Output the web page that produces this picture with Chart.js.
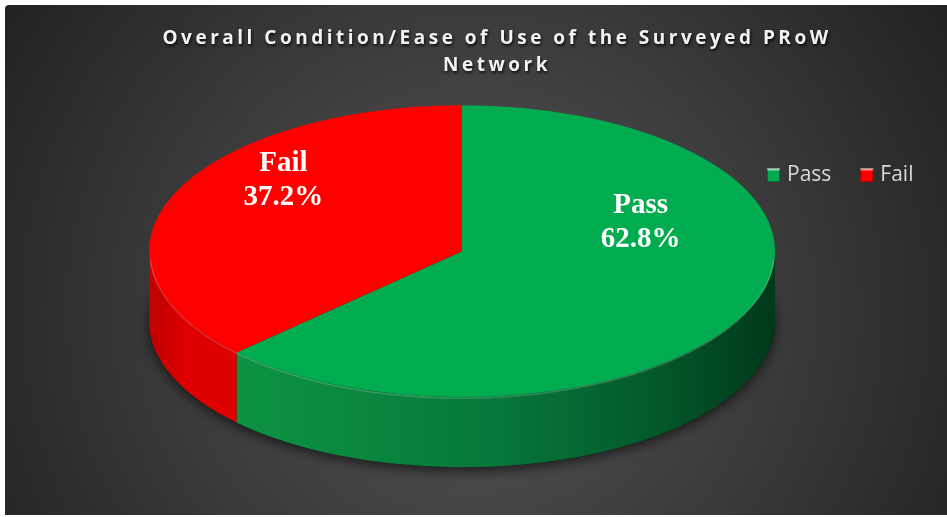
<!DOCTYPE html>
<html>
<head>
<meta charset="utf-8">
<script src="https://cdn.jsdelivr.net/npm/chart.js@4.4.1/dist/chart.umd.min.js"></script>
<style>
	html, body { margin: 0; padding: 0; background: #ffffff; }
	#myChart { display: block; }
</style>
</head>
<body>
<canvas id="myChart" width="947" height="517"></canvas>
<script>
// chart data
const titleLines = ["Overall Condition/Ease of Use of the Surveyed PRoW", "Network"];
const categories = ["Pass", "Fail"];
const shares = [62.8, 37.2];

// look of the slices
const topColors = ["#00AC4F", "#FF0000"];
const sideStops = [
	[[0, "#0f9a47"], [0.3, "#0a8a3f"], [0.55, "#07783a"], [0.8, "#035a2b"], [1, "#00381a"]],
	[[0, "#c00000"], [0.06, "#de0000"], [0.2, "#e00000"], [1, "#c80000"]],
];

// size of the tilted pie on screen
const RX = 313, RY = 146, DEPTH = 70;

function sidePath(ctx, cx, cy, a1, a2) {
	ctx.beginPath();
	ctx.ellipse(cx, cy, RX, RY, 0, a1, a2);
	ctx.lineTo(cx + Math.cos(a2) * RX, cy + Math.sin(a2) * RY + DEPTH);
	ctx.ellipse(cx, cy + DEPTH, RX, RY, 0, a2, a1, true);
	ctx.closePath();
}

const pie3d = {
	id: "pie3d",
	beforeDraw(chart) {
		const ctx = chart.ctx;
		// dark background with a lighter middle
		ctx.save();
		const g = ctx.createRadialGradient(475, 310, 0, 475, 310, 560);
		g.addColorStop(0, "#575757");
		g.addColorStop(1, "#222222");
		ctx.fillStyle = g;
		ctx.beginPath();
		ctx.roundRect(5, 5, 942, 510, [4, 0, 0, 0]);
		ctx.fill();
		ctx.restore();

		// title gets spacing + shadow, sits a bit right of the pie
		ctx.save();
		ctx.translate(35, 0);
		ctx.letterSpacing = "3.5px";
		ctx.shadowColor = "rgba(0,0,0,0.8)";
		ctx.shadowBlur = 3;
		ctx.shadowOffsetX = 1;
		ctx.shadowOffsetY = 2;
	},
	beforeDatasetsDraw(chart) {
		const ctx = chart.ctx;
		ctx.restore();

		const meta = chart.getDatasetMeta(0);
		const first = meta.data[0];
		const cx = first.x, cy = first.y;

		// shadow under the pie
		ctx.save();
		ctx.shadowColor = "rgba(0,0,0,0.6)";
		ctx.shadowBlur = 12;
		ctx.shadowOffsetY = 4;
		ctx.fillStyle = "#1a1a1a";
		ctx.beginPath();
		ctx.ellipse(cx, cy + DEPTH, RX, RY, 0, 0, Math.PI * 2);
		ctx.fill();
		ctx.restore();

		// front walls
		meta.data.forEach((arc, i) => {
			const a1 = Math.max(arc.startAngle, 0);
			const a2 = Math.min(arc.endAngle, Math.PI);
			if (a2 <= a1) return;
			const grad = ctx.createLinearGradient(cx - RX, 0, cx + RX, 0);
			sideStops[i].forEach((s) => grad.addColorStop(s[0], s[1]));
			ctx.fillStyle = grad;
			sidePath(ctx, cx, cy, a1, a2);
			ctx.fill();
		});

		// squash the round pie into the top face
		ctx.save();
		ctx.translate(cx, cy);
		ctx.scale(RX / first.outerRadius, RY / first.outerRadius);
		ctx.translate(-cx, -cy);
	},
	afterDatasetsDraw(chart) {
		const ctx = chart.ctx;
		ctx.restore();

		const meta = chart.getDatasetMeta(0);
		const cx = meta.data[0].x, cy = meta.data[0].y;

		// soft highlight on the front rim
		ctx.save();
		ctx.strokeStyle = "rgba(255,255,255,0.18)";
		ctx.lineWidth = 1.5;
		ctx.beginPath();
		ctx.ellipse(cx, cy + 1, RX - 1, RY, 0, 0.05, Math.PI - 0.05);
		ctx.stroke();
		ctx.restore();

		// labels on the slices
		ctx.save();
		ctx.font = "bold 29px 'Liberation Serif'";
		ctx.fillStyle = "#ffffff";
		ctx.textAlign = "center";
		ctx.textBaseline = "middle";
		meta.data.forEach((arc, i) => {
			const mid = (arc.startAngle + arc.endAngle) / 2;
			const x = cx + Math.cos(mid) * 0.62 * RX;
			const y = cy + Math.sin(mid) * 0.37 * RY - 50;
			ctx.fillText(categories[i], x, y - 17);
			ctx.fillText(shares[i].toFixed(1) + "%", x, y + 17);
		});
		ctx.restore();
	},
	afterDraw(chart) {
		const ctx = chart.ctx;
		// legend to the right
		ctx.save();
		ctx.font = "21px 'Open Sans'";
		ctx.textBaseline = "middle";
		let x = 767;
		const y = 175;
		categories.forEach((c, i) => {
			const col = topColors[i];
			const g = ctx.createLinearGradient(0, y - 7, 0, y + 7);
			g.addColorStop(0, "#ffffff");
			g.addColorStop(0.25, col);
			g.addColorStop(1, col);
			ctx.fillStyle = g;
			ctx.fillRect(x, y - 7, 13, 14);
			ctx.strokeStyle = "rgba(0,0,0,0.35)";
			ctx.lineWidth = 1;
			ctx.strokeRect(x + 0.5, y - 6.5, 12, 13);
			ctx.fillStyle = "#d9d9d9";
			ctx.fillText(c, x + 20, y);
			x += 20 + ctx.measureText(c).width + 29;
		});
		ctx.restore();
	},
};

var ctx = document.getElementById("myChart").getContext("2d");
var chartCanvas = new Chart(ctx, {
	type: "pie",
	data: {
		labels: categories,
		datasets: [
			{
				data: shares,
				backgroundColor: topColors,
				borderWidth: 0,
				clip: false,
			},
		],
	},
	options: {
		responsive: false,
		animation: false,
		events: [],
		layout: {
			padding: { left: 50, right: 73, top: 5, bottom: 94 },
		},
		plugins: {
			legend: { display: false },
			tooltip: { enabled: false },
			title: {
				display: true,
				text: titleLines,
				color: "#f2f2f2",
				font: { family: "'Open Sans'", size: 19, weight: "bold", lineHeight: 1.42 },
				padding: { top: 20.5, bottom: 0 },
			},
		},
	},
	plugins: [pie3d],
});
</script>
</body>
</html>
